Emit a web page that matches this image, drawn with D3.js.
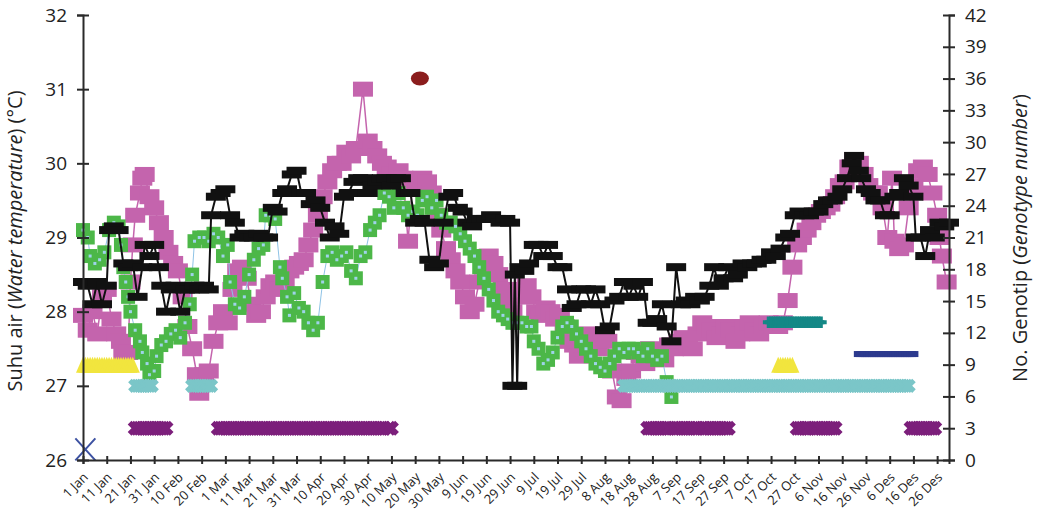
<!DOCTYPE html>
<html><head><meta charset="utf-8">
<script src="https://cdn.jsdelivr.net/npm/d3@7"></script>
<style>
body{margin:0;background:#fff}
text{font-family:"Open Sans",sans-serif;fill:#222}
</style>
</head><body>
<svg width="1037" height="512"></svg>
<script>
// temperature series, [day of year (0 = 1 Jan), degC]
const pinkSeries = [[0,27.95],[2,27.75],[4,28.0],[6,27.7],[8,28.2],[10,28.3],[12,27.9],[14,27.7],[16,27.6],[17,27.45],[19,27.45],[20,28.4],[21,28.9],[22,29.3],[24,29.6],[25,29.8],[26,29.85],[28,29.55],[30,29.4],[32,29.2],[34,29.0],[36,28.8],[38,28.65],[40,28.55],[42,28.2],[44,27.8],[46,27.5],[48,27.15],[49,26.9],[51,27.15],[53,27.2],[55,27.6],[57,27.85],[59,28.0],[61,27.85],[63,28.3],[65,28.55],[67,28.6],[69,28.45],[71,28.1],[73,27.95],[75,28.0],[77,28.2],[79,28.35],[81,28.4],[83,28.3],[85,28.4],[87,28.55],[89,28.6],[91,28.65],[93,28.7],[95,28.9],[97,29.1],[99,29.3],[101,29.55],[103,29.75],[105,29.9],[107,30.0],[109,30.0],[111,30.15],[113,30.1],[115,30.2],[118,31.0],[120,30.3],[122,30.2],[124,30.1],[126,30.0],[128,29.95],[130,29.85],[133,29.9],[135,29.8],[137,28.95],[139,29.75],[141,29.7],[143,29.8],[145,29.75],[147,29.6],[149,29.3],[151,29.1],[153,28.85],[155,28.7],[157,28.55],[159,28.4],[161,28.2],[163,28.0],[165,28.1],[167,28.4],[169,28.6],[171,28.75],[173,28.65],[175,28.5],[177,28.3],[179,28.15],[181,28.0],[183,28.2],[185,28.3],[187,28.35],[189,28.2],[191,28.0],[193,27.95],[195,28.05],[197,28.0],[199,27.9],[201,27.95],[203,27.8],[205,27.6],[207,27.55],[209,27.4],[211,27.55],[213,27.7],[215,27.6],[217,27.5],[219,27.65],[221,27.6],[223,27.2],[225,26.85],[227,26.8],[229,27.1],[231,27.2],[233,27.45],[235,27.4],[237,27.3],[239,27.5],[241,27.45],[243,27.4],[245,27.35],[247,27.55],[249,27.5],[251,27.6],[253,27.65],[255,27.55],[257,27.5],[259,27.7],[261,27.85],[263,27.8],[265,27.75],[267,27.65],[269,27.7],[271,27.8],[273,27.75],[275,27.6],[277,27.7],[279,27.8],[281,27.85],[283,27.75],[285,27.7],[287,27.8],[289,27.85],[291,27.8],[293,27.8],[295,27.85],[297,28.15],[299,28.6],[301,28.9],[303,29.0],[305,29.1],[307,29.2],[309,29.3],[311,29.35],[313,29.4],[315,29.45],[317,29.55],[319,29.7],[321,29.75],[323,29.95],[325,30.05],[327,30.0],[329,29.85],[331,29.7],[333,29.6],[335,29.6],[337,29.4],[339,29.0],[341,29.8],[342,28.95],[344,28.85],[346,28.9],[348,29.4],[350,29.7],[352,29.9],[354,29.95],[356,29.85],[358,29.6],[360,29.3],[361,29.0],[362,28.75],[364,28.4]];

const blackSeries = [[0,28.4],[2,28.35],[4,28.1],[6,28.4],[8,28.1],[10,28.35],[11,29.1],[13,29.15],[15,29.1],[17,28.65],[19,28.6],[21,28.65],[23,28.2],[25,28.6],[26,28.9],[28,28.75],[30,28.9],[32,28.6],[33,28.35],[35,28.0],[37,28.3],[39,28.35],[41,28.0],[43,28.3],[45,28.3],[47,28.35],[49,28.3],[51,28.35],[53,28.3],[54,29.3],[56,29.55],[58,29.6],[60,29.65],[62,29.3],[64,29.2],[66,29.0],[68,29.05],[70,29.0],[72,29.0],[74,29.05],[76,29.0],[78,29.0],[80,29.4],[82,29.35],[84,29.6],[86,29.65],[88,29.85],[90,29.9],[92,29.6],[94,29.6],[96,29.45],[98,29.5],[100,29.4],[102,29.2],[104,29.0],[106,29.15],[108,29.05],[110,29.55],[112,29.6],[114,29.75],[116,29.8],[118,29.8],[120,29.6],[122,29.7],[124,29.75],[126,29.8],[128,29.8],[130,29.7],[132,29.8],[134,29.8],[136,29.6],[138,29.6],[140,29.2],[142,29.25],[144,29.2],[146,28.7],[148,28.6],[150,28.65],[152,29.2],[154,29.55],[156,29.6],[158,29.4],[160,29.35],[162,29.2],[164,29.15],[166,29.25],[168,29.25],[170,29.25],[172,29.3],[174,29.25],[176,29.2],[178,29.25],[180,29.2],[181,27.0],[182,28.5],[183,27.0],[184,28.6],[186,28.55],[188,28.65],[190,28.9],[192,28.9],[194,28.75],[196,28.9],[198,28.75],[200,28.6],[202,28.6],[204,28.3],[206,28.05],[208,28.1],[210,28.3],[212,28.3],[214,28.1],[216,28.3],[218,28.1],[220,27.75],[222,27.8],[224,28.15],[226,28.2],[228,28.4],[230,28.2],[232,28.35],[234,28.2],[236,28.4],[238,27.85],[240,27.85],[242,27.9],[244,28.1],[246,27.8],[248,27.6],[250,28.6],[252,28.1],[254,28.15],[256,28.1],[258,28.2],[260,28.15],[262,28.2],[264,28.35],[266,28.6],[268,28.35],[270,28.45],[272,28.6],[274,28.45],[276,28.5],[278,28.65],[280,28.6],[282,28.65],[284,28.65],[286,28.7],[288,28.7],[290,28.8],[292,28.75],[294,28.85],[296,29.0],[298,29.05],[300,29.3],[302,29.35],[304,29.3],[306,29.3],[308,29.35],[310,29.35],[312,29.45],[314,29.5],[316,29.5],[318,29.55],[320,29.65],[322,29.8],[324,30.0],[325,30.1],[327,29.9],[328,29.8],[330,29.65],[332,29.6],[334,29.5],[336,29.5],[338,29.3],[340,29.3],[342,29.55],[344,29.6],[346,29.8],[348,29.7],[350,29.55],[351,29.0],[353,29.0],[355,28.75],[357,29.1],[359,29.0],[361,29.2],[363,29.15],[365,29.2]];

const greenSeries = [[0,29.1],[2,29.0],[3,28.75],[5,28.65],[7,28.7],[9,28.8],[11,29.1],[13,29.2],[15,29.15],[16,28.9],[17,28.6],[18,28.4],[19,28.2],[20,28.0],[22,27.75],[24,27.6],[25,27.45],[27,27.3],[28,27.15],[30,27.2],[31,27.4],[33,27.55],[35,27.6],[37,27.7],[39,27.75],[41,27.65],[43,27.85],[45,28.1],[46,28.5],[47,28.95],[49,29.0],[51,29.0],[53,28.95],[55,29.05],[57,29.0],[59,28.75],[61,28.9],[62,28.4],[64,28.1],[66,28.05],[68,28.2],[70,28.5],[72,28.7],[74,28.85],[76,28.9],[77,29.3],[79,29.3],[81,29.25],[83,28.6],[84,28.45],[86,28.2],[87,27.95],[89,28.25],[91,28.05],[93,28.0],[95,27.85],[97,27.75],[99,27.85],[101,28.4],[103,28.75],[105,28.8],[107,28.7],[109,28.75],[111,28.8],[113,28.55],[115,28.45],[117,28.75],[119,28.8],[121,29.1],[123,29.2],[125,29.3],[127,29.6],[129,29.55],[131,29.4],[133,29.6],[135,29.4],[137,29.3],[139,29.35],[141,29.3],[143,29.5],[145,29.55],[147,29.4],[149,29.5],[151,29.3],[153,29.2],[155,29.2],[157,29.15],[159,29.05],[161,28.95],[163,28.85],[165,28.75],[167,28.6],[169,28.45],[171,28.3],[173,28.15],[175,28.0],[177,27.95],[179,27.9],[181,27.85],[183,27.85],[185,27.85],[187,27.8],[189,27.8],[190,27.6],[192,27.5],[194,27.3],[196,27.35],[198,27.45],[200,27.65],[202,27.8],[204,27.85],[206,27.8],[208,27.7],[210,27.6],[212,27.5],[214,27.4],[216,27.3],[218,27.25],[220,27.2],[222,27.3],[224,27.4],[226,27.5],[228,27.45],[230,27.5],[232,27.5],[234,27.45],[236,27.4],[238,27.5],[240,27.4],[242,27.35],[244,27.4],[246,27.05],[248,26.85]];

// genotype records: periods [first day, last day] and single points [day, number]
const yellowRuns = [[0, 21], [293, 299]];      // genotype no. 9
const cyanRuns = [[22, 29], [46, 54], [228, 348]];  // genotype no. 7
const purpleRuns = [[22, 35], [57, 127], [129, 130], [238, 247], [249, 259], [261, 272], [301, 306], [308, 317], [349, 359]]; // genotype no. 3
const tealRuns = [[289, 311]];                 // genotype no. 13
const navyRuns = [[327, 350]];                 // genotype no. 10
const redPoints = [[142, 36]];
const bluePoints = [[1, 1]];

const tickLabels = ["1 Jan","11 Jan","21 Jan","31 Jan","10 Feb","20 Feb","1 Mar","11 Mar","21 Mar","31 Mar","10 Apr","20 Apr","30 Apr","10 May","20 May","30 May","9 Jun","19 Jun","29 Jun","9 Jul","19 Jul","29 Jul","8 Aug","18 Aug","28 Aug","7 Sep","17 Sep","27 Sep","7 Oct","17 Oct","27 Oct","6 Nov","16 Nov","26 Nov","6 Des","16 Des","26 Des"];

const svg = d3.select('svg');

const x = d3.scaleLinear().domain([0, 365]).range([83, 949]);
const yT = d3.scaleLinear().domain([26, 32]).range([460, 15]);
const yG = d3.scaleLinear().domain([0, 42]).range([460, 15]);

// runs -> one marker per day
const expand = (runs, v) => runs.flatMap(r => d3.range(r[0], r[1] + 1).map(d => [d, v]));

const plot = svg.append('g');

// pink
plot.append('path').datum(pinkSeries)
    .attr('fill', 'none').attr('stroke', '#c464ad').attr('stroke-width', 1.5)
    .attr('d', d3.line().x(d => x(d[0])).y(d => yT(d[1])));
plot.selectAll('.pk').data(pinkSeries).enter().append('rect')
    .attr('x', d => x(d[0]) - 10).attr('y', d => yT(d[1]) - 7.5)
    .attr('width', 20).attr('height', 15).attr('fill', '#c464ad');

// green
plot.append('path').datum(greenSeries)
    .attr('fill', 'none').attr('stroke', '#8ec3e6').attr('stroke-width', 1)
    .attr('d', d3.line().x(d => x(d[0])).y(d => yT(d[1])));
plot.selectAll('.gr').data(greenSeries).enter().append('rect')
    .attr('x', d => x(d[0]) - 7).attr('y', d => yT(d[1]) - 7)
    .attr('width', 14).attr('height', 14).attr('fill', '#4cb748');
plot.selectAll('.gc').data(greenSeries).enter().append('rect')
    .attr('x', d => x(d[0]) - 1.5).attr('y', d => yT(d[1]) - 1.5)
    .attr('width', 3).attr('height', 3).attr('fill', '#9fd3ea');

// black
plot.append('path').datum(blackSeries)
    .attr('fill', 'none').attr('stroke', '#111').attr('stroke-width', 2)
    .attr('d', d3.line().x(d => x(d[0])).y(d => yT(d[1])));
plot.selectAll('.bk').data(blackSeries).enter().append('rect')
    .attr('x', d => x(d[0]) - 10).attr('y', d => yT(d[1]) - 4)
    .attr('width', 20).attr('height', 8).attr('fill', '#111');

// genotype markers
plot.selectAll('.cy').data(expand(cyanRuns, 7)).enter().append('path')
    .attr('d', d3.symbol().type(d3.symbolCross).size(125)).attr('fill', '#7bc6c8')
    .attr('transform', d => `translate(${x(d[0])},${yG(d[1])}) rotate(45)`);
plot.selectAll('.pu').data(expand(purpleRuns, 3)).enter().append('path')
    .attr('d', d3.symbol().type(d3.symbolCross).size(140)).attr('fill', '#7c1f7b')
    .attr('transform', d => `translate(${x(d[0])},${yG(d[1])}) rotate(45)`);
plot.selectAll('.ye').data(expand(yellowRuns, 9)).enter().append('path')
    .attr('d', 'M0,-8L7,8L-7,8Z').attr('fill', '#f1e53e')
    .attr('transform', d => `translate(${x(d[0])},${yG(d[1])})`);
plot.selectAll('.te').data(expand(tealRuns, 13)).enter().append('path')
    .attr('d', d3.symbol().type(d3.symbolCross).size(75)).attr('fill', '#148886')
    .attr('transform', d => `translate(${x(d[0])},${yG(d[1])})`);
plot.selectAll('.nv').data(expand(navyRuns, 10)).enter().append('rect')
    .attr('x', d => x(d[0]) - 5).attr('y', d => yG(d[1]) - 3)
    .attr('width', 10).attr('height', 6).attr('fill', '#2c3a8e');
plot.selectAll('.rd').data(redPoints).enter().append('ellipse')
    .attr('cx', d => x(d[0])).attr('cy', d => yG(d[1]))
    .attr('rx', 9).attr('ry', 7).attr('fill', '#8b1d1d');
plot.selectAll('.bl').data(bluePoints).enter().append('path')
    .attr('d', 'M-10,-11L10,11M-10,11L10,-11')
    .attr('fill', 'none').attr('stroke', '#3d52a2').attr('stroke-width', 2)
    .attr('transform', d => `translate(${x(d[0])},${yG(d[1])})`);

// axes
const axisColor = '#2a2a2a';
const left = svg.append('g').attr('transform', 'translate(83,0)')
    .call(d3.axisLeft(yT).ticks(6).tickFormat(d3.format('d')).tickSize(6).tickPadding(10));
left.selectAll('.tick line').attr('x2', -6).attr('x1', 6);
const right = svg.append('g').attr('transform', 'translate(949,0)')
    .call(d3.axisRight(yG).tickValues(d3.range(0, 43, 3)).tickSize(6).tickPadding(10));
right.selectAll('.tick line').attr('x1', -6).attr('x2', 6);
const bottom = svg.append('g').attr('transform', 'translate(0,460)')
    .call(d3.axisBottom(x).tickValues(tickLabels.map((t, i) => i * 10)).tickSize(4).tickFormat(''));
bottom.selectAll('.tick line').attr('y1', -4).attr('y2', 4);

[left, right, bottom].forEach(g => {
    g.select('.domain').attr('stroke', axisColor).attr('stroke-width', 2);
    g.selectAll('.tick line').attr('stroke', axisColor).attr('stroke-width', 2);
});
left.selectAll('text').style('font-size', '19px').attr('fill', '#222');
right.selectAll('text').style('font-size', '19px').attr('fill', '#222');

svg.append('g').selectAll('text').data(tickLabels).enter().append('text')
    .attr('transform', (t, i) => `translate(${x(i * 10) + 6},478) rotate(-45)`)
    .attr('text-anchor', 'end')
    .style('font-size', '13px').text(t => t);

// axis titles
const lt = svg.append('text').attr('transform', 'translate(22,241) rotate(-90)')
    .attr('text-anchor', 'middle').style('font-size', '20px');
lt.append('tspan').text('Suhu air (');
lt.append('tspan').style('font-style', 'italic').text('Water temperature');
lt.append('tspan').text(') (°C)');

const rt = svg.append('text').attr('transform', 'translate(1027,238) rotate(-90)')
    .attr('text-anchor', 'middle').style('font-size', '20px');
rt.append('tspan').text('No. Genotip (');
rt.append('tspan').style('font-style', 'italic').text('Genotype number');
rt.append('tspan').text(')');
</script>
</body></html>
